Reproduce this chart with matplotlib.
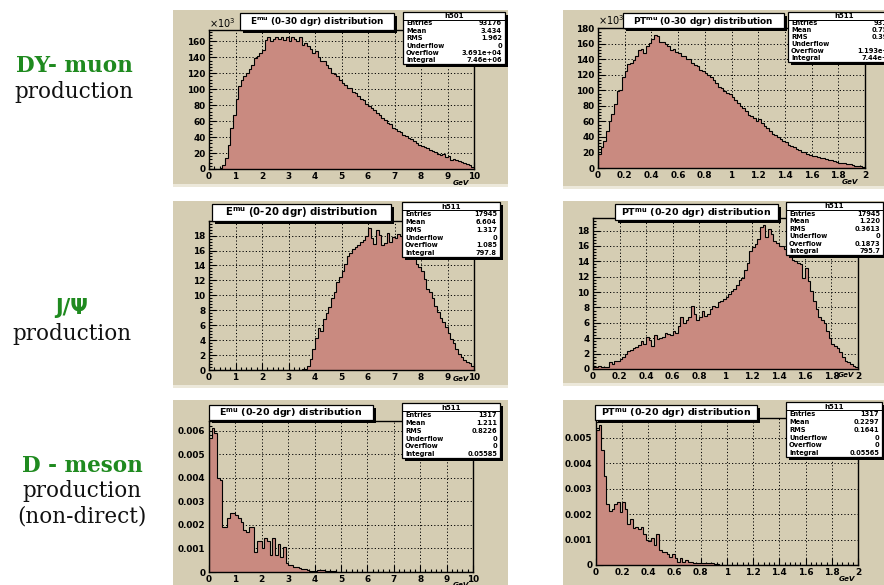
import numpy as np
import matplotlib
matplotlib.use("Agg")
import matplotlib.pyplot as plt
from matplotlib.patches import Rectangle
from matplotlib.ticker import MultipleLocator, FuncFormatter

W, H = 884, 585

# ---- histogram contents (100 equal bins each) ----
# DY muons: energy, 0-10 GeV, counts in units of 10^3
e_dy = [0, 0, 0, 0, 1, 5, 14, 30, 52, 68,
        88, 104, 112, 116, 120, 126, 130, 139, 142, 146,
        149, 162, 165, 160, 163, 166, 163, 165, 162, 166,
        161, 166, 163, 160, 165, 156, 158, 154, 151, 146,
        148, 140, 136, 136, 130, 127, 121, 119, 116, 112,
        108, 105, 101, 101, 97, 95, 91, 88, 86, 81,
        79, 76, 74, 70, 68, 64, 62, 58, 56, 52,
        50, 48, 46, 43, 42, 39, 37, 35, 33, 30,
        29, 27, 26, 24, 22, 21, 19, 17, 19, 15,
        16, 11, 12, 11, 10, 9, 8, 6, 5, 3]

# DY muons: transverse momentum, 0-2 GeV, counts in units of 10^3
pt_dy = [18, 27, 35, 48, 60, 70, 82, 99, 101, 118,
         125, 134, 136, 139, 145, 152, 154, 148, 157, 161,
         167, 172, 170, 162, 162, 160, 157, 152, 153, 150,
         148, 145, 144, 140, 140, 136, 133, 131, 127, 125,
         123, 120, 117, 113, 110, 105, 103, 99, 97, 95,
         92, 88, 84, 80, 77, 73, 69, 67, 65, 61,
         63, 58, 54, 51, 48, 44, 42, 40, 38, 35,
         33, 30, 28, 27, 25, 23, 21, 20, 18, 17,
         16, 15, 14, 13, 13, 11, 10, 10, 9, 8,
         7, 7, 6, 5, 5, 4, 3, 3, 2, 1]

# J/psi: energy, 0-10 GeV
e_jpsi = [0] * 35 + [
    0.1, 0.2, 0.5, 1.5, 2.8,
    4.3, 5.6, 5.2, 6.8, 7.6, 8.4, 9.6, 10.5, 11.8, 12.5,
    13.2, 14.2, 15.3, 15.6, 16.2, 16.5, 16.8, 17.1, 17.4, 18.0,
    19.0, 17.7, 16.9, 18.7, 18.1, 16.8, 17.0, 18.4, 17.1, 17.8,
    17.7, 18.2, 18.0, 18.4, 17.6, 17.2, 16.6, 15.2, 14.2, 13.8,
    13.2, 12.2, 10.8, 10.4, 9.6, 8.6, 7.8, 7.0, 6.4, 5.7,
    5.0, 4.2, 3.6, 2.8, 2.2, 1.8, 1.4, 1.1, 0.9, 0.6]

# J/psi: transverse momentum, 0-2 GeV
pt_jpsi = [0.2, 0.3, 0.4, 0.3, 0.2, 0.3, 0.9, 0.7, 1.1, 1.0,
           1.3, 1.6, 2.0, 2.4, 2.5, 2.7, 2.9, 3.1, 3.6, 3.2,
           4.2, 3.8, 3.0, 4.4, 3.9, 4.0, 4.2, 4.7, 4.5, 4.4,
           4.9, 4.7, 5.6, 6.7, 6.0, 6.4, 6.7, 8.2, 7.1, 6.4,
           6.7, 7.6, 6.9, 7.1, 7.8, 8.2, 8.0, 8.7, 8.9, 9.1,
           9.3, 9.8, 10.1, 10.4, 10.9, 11.6, 11.8, 12.9, 13.8, 15.3,
           15.8, 16.2, 16.9, 18.4, 18.7, 17.1, 18.2, 17.6, 16.7, 16.4,
           16.0, 16.0, 15.6, 15.3, 14.7, 14.2, 14.0, 13.8, 13.6, 11.8,
           13.1, 11.5, 10.2, 8.9, 7.8, 6.7, 6.4, 6.0, 4.9, 4.0,
           3.3, 3.0, 2.7, 2.2, 1.6, 1.1, 0.9, 0.7, 0.4, 0.3]

# D mesons (non-direct): energy, 0-10 GeV
e_dmeson = [0.0057, 0.0061, 0.0059, 0.0040, 0.0039, 0.0019, 0.0019, 0.0023, 0.0025, 0.0025,
            0.0024, 0.0023, 0.0021, 0.0018, 0.0017, 0.0019, 0.0019, 0.00086, 0.0013, 0.0013,
            0.0010, 0.00144, 0.0013, 0.0007, 0.00144, 0.0007, 0.0012, 0.00065, 0.00108, 0.0004,
            0.0003, 0.0003, 0.0002, 0.0002, 0.00015, 0.00013, 0.00012, 0.0001, 0.00006, 0.00005,
            0.00005, 0.00008, 0.00008, 0.00007, 0.00003, 0.00003, 0.00003, 0.00003, 0.00002, 0.0,
            ] + [0.0] * 50

# D mesons (non-direct): transverse momentum, 0-2 GeV
pt_dmeson = [0.0053, 0.0055, 0.0045, 0.0035, 0.0024, 0.00213, 0.0022, 0.0024, 0.00247, 0.00207,
             0.00247, 0.0022, 0.0016, 0.0018, 0.00147, 0.0015, 0.0014, 0.0015, 0.0012, 0.0010,
             0.00093, 0.00107, 0.0008, 0.0012, 0.0006, 0.00053, 0.0005, 0.00045, 0.00033, 0.00045,
             0.00027, 0.00013, 0.00027, 0.00013, 0.0002, 0.00013, 0.00013, 0.00007, 0.00007, 0.00007,
             0.00007, 0.00006, 0.00006, 0.00006, 0.00006, 0.00004, 0.00004, 0.0, 0.0, 0.0,
             ] + [0.0] * 50

titles = [r"$\mathbf{E^{mu}}$ (0-30 dgr) distribution",
          r"$\mathbf{PT^{mu}}$ (0-30 dgr) distribution",
          r"$\mathbf{E^{mu}}$ (0-20 dgr) distribution",
          r"$\mathbf{PT^{mu}}$ (0-20 dgr) distribution",
          r"$\mathbf{E^{mu}}$ (0-20 dgr) distribution",
          r"$\mathbf{PT^{mu}}$ (0-20 dgr) distribution"]

hist_names = ["h501", "h511", "h511", "h511", "h511", "h511"]
stat_labels = ["Entries", "Mean", "RMS", "Underflow", "Overflow", "Integral"]
stat_values = [["93176", "3.434", "1.962", "0", "3.691e+04", "7.46e+06"],
               ["93176", "0.7594", "0.3957", "0", "1.193e+04", "7.44e+06"],
               ["17945", "6.604", "1.317", "0", "1.085", "797.8"],
               ["17945", "1.220", "0.3613", "0", "0.1873", "795.7"],
               ["1317", "1.211", "0.8226", "0", "0", "0.05585"],
               ["1317", "0.2297", "0.1641", "0", "0", "0.05565"]]

row_names = [("DY- muon", ["production"]),
             ("J/\u03a8", ["production"]),
             ("D - meson", ["production", "(non-direct)"])]

# ---- layout (pixel boxes: x0, y0, x1, y1 measured from top-left) ----
layout = [
    dict(canvas=(173, 10, 508, 187), frame=(209, 30, 474, 169), title=(240, 13, 394, 30),
         stats=(403, 12, 505, 64), xmax=10, xmaj=1, ymaj=20, tfs=6.4, exp=(209, 23), gev=(461, 183)),
    dict(canvas=(563, 10, 884, 189), frame=(598, 28, 865, 168), title=(623, 13, 784, 28),
         stats=(788, 12, 900, 62), xmax=2, xmaj=0.2, ymaj=20, tfs=6.4, exp=(598, 20), gev=(850, 182)),
    dict(canvas=(173, 201, 508, 388), frame=(209, 221, 474, 370), title=(212, 204, 391, 221),
         stats=(402, 202, 500, 257), xmax=10, xmaj=1, ymaj=2, tfs=7.3, exp=None, gev=(461, 379)),
    dict(canvas=(563, 201, 884, 386), frame=(593, 218, 858, 369), title=(615, 204, 778, 220),
         stats=(786, 202, 883, 255), xmax=2, xmaj=0.2, ymaj=2, tfs=6.8, exp=None, gev=(846, 375)),
    dict(canvas=(173, 400, 508, 590), frame=(209, 421, 473, 572), title=(209, 405, 373, 420),
         stats=(402, 403, 500, 458), xmax=10, xmaj=1, ymaj=0.001, tfs=6.8, exp=None, gev=(461, 585)),
    dict(canvas=(563, 400, 884, 590), frame=(596, 418, 858, 565), title=(595, 405, 757, 420),
         stats=(786, 402, 882, 457), xmax=2, xmaj=0.2, ymaj=0.001, tfs=6.8, exp=None, gev=(847, 579)),
]
series = [e_dy, pt_dy, e_jpsi, pt_jpsi, e_dmeson, pt_dmeson]

CANVAS = "#d5cdb3"
FILL = "#c98a80"
GREEN = "#1f8a1f"

plt.rcParams["font.family"] = ["DejaVu Sans"]
plt.rcParams["mathtext.fontset"] = "dejavusans"

fig = plt.figure(figsize=(W / 100, H / 100), dpi=100)
fig.patch.set_facecolor("white")


def frac(box):
    x0, y0, x1, y1 = box
    return [x0 / W, 1 - y1 / H, (x1 - x0) / W, (y1 - y0) / H]


def rect(box, **kw):
    l, b, w, h = frac(box)
    r = Rectangle((l, b), w, h, transform=fig.transFigure, **kw)
    fig.add_artist(r)
    return r


def shadow_box(box, z):
    x0, y0, x1, y1 = box
    rect((x0 + 3, y0 + 3, x1 + 3, y1 + 3), facecolor="black", edgecolor="none", zorder=z)
    rect(box, facecolor="white", edgecolor="black", lw=0.9, zorder=z + 0.1)


def ftext(x, y, s, **kw):
    fig.text(x / W, 1 - y / H, s, **kw)


fmt = FuncFormatter(lambda v, pos: f"{v:g}")

for k, (p, vals) in enumerate(zip(layout, series)):
    # pad background with light lower bevel
    rect(p["canvas"], facecolor=CANVAS, edgecolor="none", zorder=-3)
    cx0, cy0, cx1, cy1 = p["canvas"]
    rect((cx0, cy1 - 3, cx1, cy1), facecolor="#ece8da", edgecolor="none", zorder=-2)

    ax = fig.add_axes(frac(p["frame"]))
    ax.set_facecolor(CANVAS)
    v = np.asarray(vals, dtype=float)
    edges = np.linspace(0, p["xmax"], len(v) + 1)
    ax.stairs(v, edges, fill=True, facecolor=FILL, edgecolor="none", zorder=2)
    ax.stairs(v, edges, baseline=0, color="black", lw=0.8, zorder=3)
    ax.set_xlim(0, p["xmax"])
    ax.set_ylim(0, 1.05 * v.max())

    ax.xaxis.set_major_locator(MultipleLocator(p["xmaj"]))
    ax.xaxis.set_minor_locator(MultipleLocator(p["xmaj"] / 5))
    ax.yaxis.set_major_locator(MultipleLocator(p["ymaj"]))
    ax.yaxis.set_minor_locator(MultipleLocator(p["ymaj"] / 5))
    ax.xaxis.set_major_formatter(fmt)
    ax.yaxis.set_major_formatter(fmt)
    ax.tick_params(which="both", direction="in", top=False, right=False, width=0.8,
                   labelsize=6.4, pad=2.5)
    ax.tick_params(which="major", length=5)
    ax.tick_params(which="minor", length=2.5)
    for lab in ax.get_xticklabels() + ax.get_yticklabels():
        lab.set_fontweight("bold")
    ax.set_axisbelow(True)
    ax.grid(True, which="major", color="black", lw=0.7, ls=(0, (1.2, 2.2)), zorder=1)
    for s in ax.spines.values():
        s.set_linewidth(1.0)
        s.set_zorder(4)

    # title pave
    shadow_box(p["title"], 5)
    tx0, ty0, tx1, ty1 = p["title"]
    ftext((tx0 + tx1) / 2, (ty0 + ty1) / 2 + 0.5, titles[k], ha="center", va="center",
          fontsize=p["tfs"], fontweight="bold", zorder=6)

    # statistics pave
    shadow_box(p["stats"], 5)
    sx0, sy0, sx1, sy1 = p["stats"]
    hh = (sy1 - sy0) * 0.15
    rect((sx0, sy0 + hh, sx1, sy0 + hh), facecolor="none", edgecolor="black", lw=0.7, zorder=5.5)
    ftext((sx0 + sx1) / 2, sy0 + hh / 2 + 0.5, hist_names[k], ha="center", va="center",
          fontsize=5, fontweight="bold", zorder=6)
    rh = (sy1 - sy0 - hh) / len(stat_labels)
    for i, (lab, val) in enumerate(zip(stat_labels, stat_values[k])):
        yc = sy0 + hh + rh * (i + 0.5)
        ftext(sx0 + 3, yc, lab, ha="left", va="center", fontsize=4.8, fontweight="bold", zorder=6)
        ftext(sx1 - 3, yc, val, ha="right", va="center", fontsize=4.8, fontweight="bold", zorder=6)

    if p["exp"] is not None:
        ftext(p["exp"][0], p["exp"][1], r"$\times10^{3}$", ha="left", va="center",
              fontsize=7, zorder=4)
    ftext(p["gev"][0], p["gev"][1], "GeV", ha="center", va="center", fontsize=5.2,
          fontweight="bold", fontstyle="italic", zorder=4)

# row captions on the left
caption_pos = [(74, 66, 92), (72, 308, 334), (82, 466, 491)]
for (head, lines), (xc, yh, yl) in zip(row_names, caption_pos):
    if head.startswith("J"):
        ftext(xc, yh, head, ha="center", va="center", fontsize=15, color=GREEN,
              family="DejaVu Sans", fontweight="bold")
    else:
        ftext(xc, yh, head, ha="center", va="center", fontsize=15.5, color=GREEN,
              family="DejaVu Serif", fontweight="bold")
    for j, line in enumerate(lines):
        ftext(xc, yl + 25 * j, line, ha="center", va="center", fontsize=15.5,
              family="DejaVu Serif", color="#111111")

fig.savefig("out.png", dpi=100, facecolor="white")
